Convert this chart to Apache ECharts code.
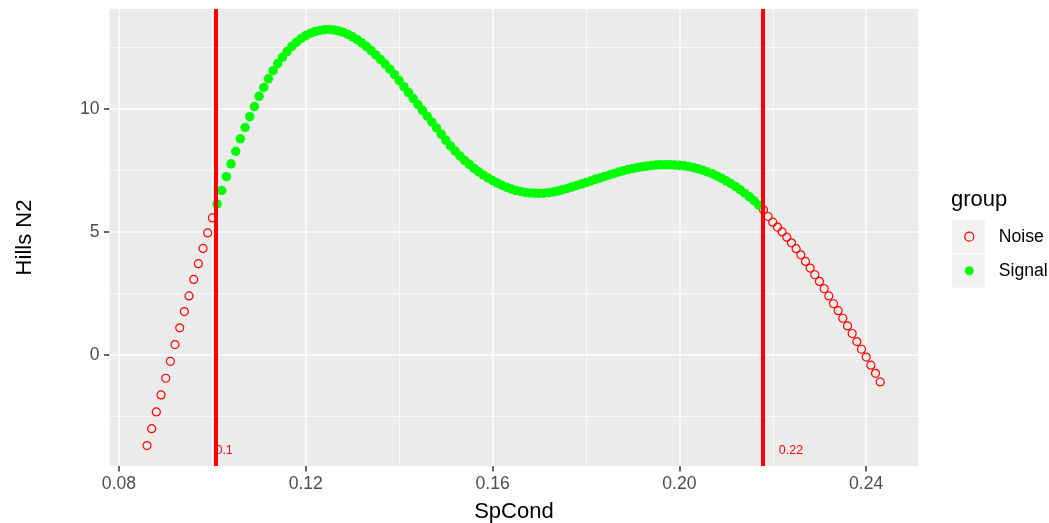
<!DOCTYPE html>
<html><head><meta charset="utf-8">
<script src="https://cdn.jsdelivr.net/npm/echarts@6/dist/echarts.min.js"></script>
<style>html,body{margin:0;padding:0;background:#fff}#c{width:1049px;height:523px}</style>
</head><body><div id="c"></div>
<script>
const spCond = [
0.086,0.087,0.088,0.089,0.090,0.091,0.092,0.093,0.094,0.095,0.096,0.097,0.098,0.099,0.100,
0.101,0.102,0.103,0.104,0.105,0.106,0.107,0.108,0.109,0.110,0.111,0.112,0.113,0.114,0.115,
0.116,0.117,0.118,0.119,0.120,0.121,0.122,0.123,0.124,0.125,0.126,0.127,0.128,0.129,0.130,
0.131,0.132,0.133,0.134,0.135,0.136,0.137,0.138,0.139,0.140,0.141,0.142,0.143,0.144,0.145,
0.146,0.147,0.148,0.149,0.150,0.151,0.152,0.153,0.154,0.155,0.156,0.157,0.158,0.159,0.160,
0.161,0.162,0.163,0.164,0.165,0.166,0.167,0.168,0.169,0.170,0.171,0.172,0.173,0.174,0.175,
0.176,0.177,0.178,0.179,0.180,0.181,0.182,0.183,0.184,0.185,0.186,0.187,0.188,0.189,0.190,
0.191,0.192,0.193,0.194,0.195,0.196,0.197,0.198,0.199,0.200,0.201,0.202,0.203,0.204,0.205,
0.206,0.207,0.208,0.209,0.210,0.211,0.212,0.213,0.214,0.215,0.216,0.217,0.218,0.219,0.220,
0.221,0.222,0.223,0.224,0.225,0.226,0.227,0.228,0.229,0.230,0.231,0.232,0.233,0.234,0.235,
0.236,0.237,0.238,0.239,0.240,0.241,0.242,0.243
];
const hillsN2 = [
-3.69,-3.00,-2.32,-1.63,-0.95,-0.26,0.42,1.10,1.76,2.40,3.07,3.71,4.33,4.96,5.57,
6.14,6.69,7.25,7.77,8.28,8.79,9.25,9.69,10.10,10.52,10.88,11.23,11.56,11.85,12.11,
12.34,12.55,12.72,12.87,12.99,13.08,13.15,13.20,13.23,13.24,13.22,13.18,13.12,13.04,12.94,
12.82,12.69,12.54,12.38,12.20,12.02,11.83,11.62,11.40,11.16,10.91,10.67,10.43,10.19,9.95,
9.71,9.47,9.23,8.98,8.73,8.50,8.29,8.09,7.91,7.75,7.59,7.45,7.32,7.20,7.09,
6.99,6.90,6.82,6.75,6.69,6.65,6.61,6.59,6.58,6.57,6.58,6.60,6.63,6.67,6.72,
6.77,6.83,6.89,6.95,7.01,7.07,7.14,7.20,7.26,7.32,7.38,7.44,7.49,7.54,7.58,
7.62,7.65,7.68,7.70,7.72,7.73,7.73,7.73,7.72,7.71,7.69,7.66,7.62,7.57,7.51,
7.44,7.37,7.28,7.19,7.08,6.97,6.85,6.72,6.58,6.43,6.27,6.09,5.90,5.63,5.40,
5.20,5.00,4.79,4.56,4.32,4.07,3.80,3.53,3.26,2.99,2.69,2.40,2.08,1.80,1.49,
1.18,0.87,0.54,0.23,-0.09,-0.42,-0.75,-1.10
];
const thresholds = [0.1008, 0.2179];
const thresholdLabels = ['0.1', '0.22'];
const groupNames = ['Noise', 'Signal'];
const xTicks = [0.08, 0.12, 0.16, 0.20, 0.24];
const xMinor = [0.10, 0.14, 0.18, 0.22];
const yTicks = [0, 5, 10];
const yMinor = [-2.5, 2.5, 7.5, 12.5];

const noiseData = [], signalData = [];
spCond.forEach((x, i) => {
  if (x >= thresholds[0] && x <= thresholds[1]) signalData.push([x, hillsN2[i]]);
  else noiseData.push([x, hillsN2[i]]);
});

const FONT = 'Liberation Sans, Arial, Helvetica, sans-serif';
const chart = echarts.init(document.getElementById('c'), null, {renderer: 'canvas'});

const gridLines = [].concat(
  xTicks.map(v => ({xAxis: v, lineStyle: {width: 1.5}})),
  xMinor.map(v => ({xAxis: v, lineStyle: {width: 0.75}})),
  yTicks.map(v => ({yAxis: v, lineStyle: {width: 1.5}})),
  yMinor.map(v => ({yAxis: v, lineStyle: {width: 0.75}}))
);

chart.setOption({
  animation: false,
  textStyle: {fontFamily: FONT},
  grid: {left: 109.5, right: 130.7, top: 9, bottom: 57, show: true, backgroundColor: '#EBEBEB', borderWidth: 0,
    containLabel: false, outerBoundsMode: 'none'},
  xAxis: {
    type: 'value', min: 0.07797, max: 0.25116,
    name: 'SpCond', nameLocation: 'middle', nameGap: 35,
    nameTextStyle: {fontSize: 22, color: '#000', fontFamily: FONT},
    axisLine: {show: false, onZero: false},
    axisTick: {show: true, length: 5.5, lineStyle: {color: '#333333', width: 1.5}, customValues: xTicks},
    axisLabel: {customValues: xTicks, fontSize: 17.6, color: '#4D4D4D', margin: 9, fontFamily: FONT,
      formatter: v => Number(v).toFixed(2)},
    splitLine: {show: false}
  },
  yAxis: {
    type: 'value', min: -4.52, max: 14.07,
    name: 'Hills N2', nameLocation: 'middle', nameGap: 74,
    nameTextStyle: {fontSize: 22, color: '#000', fontFamily: FONT},
    axisLine: {show: false, onZero: false},
    axisTick: {show: true, length: 5.5, lineStyle: {color: '#333333', width: 1.5}, customValues: yTicks},
    axisLabel: {customValues: yTicks, fontSize: 17.6, color: '#4D4D4D', margin: 10, fontFamily: FONT,
      padding: [3, 0, 0, 0],
      formatter: v => String(Math.round(v))},
    splitLine: {show: false}
  },
  legend: {
    orient: 'vertical', left: 964.2, top: 219.7, padding: 0, itemGap: 0,
    itemWidth: 9, itemHeight: 9,
    textStyle: {fontSize: 17.6, color: '#000', lineHeight: 34, padding: [0, 0, 0, 20], fontFamily: FONT},
    data: [
      {name: groupNames[0], icon: 'circle', itemStyle: {color: 'rgba(0,0,0,0)', borderColor: '#FF0000', borderWidth: 1.2, opacity: 1}},
      {name: groupNames[1], icon: 'circle', itemStyle: {color: '#00FF00', borderWidth: 0, opacity: 1}}
    ]
  },
  graphic: [
    {type: 'rect', shape: {x: 952, y: 220, width: 33, height: 33}, style: {fill: '#F2F2F2'}, z: 0},
    {type: 'rect', shape: {x: 952, y: 254.5, width: 33, height: 33}, style: {fill: '#F2F2F2'}, z: 0},
    {type: 'text', x: 951, y: 200, style: {text: 'group', font: '22px ' + FONT, fill: '#000', verticalAlign: 'middle', align: 'left'}, z: 1}
  ],
  series: [
    {
      name: 'grid', type: 'scatter', data: [], silent: true, z: 1,
      markLine: {silent: true, symbol: 'none', z: 1, animation: false, precision: 6,
        label: {show: false}, lineStyle: {color: '#FFFFFF', type: 'solid', opacity: 1},
        emphasis: {disabled: true},
        data: gridLines}
    },
    {
      name: groupNames[0], type: 'scatter', data: noiseData, symbol: 'circle', symbolSize: 8, z: 2,
      itemStyle: {color: 'rgba(0,0,0,0)', borderColor: '#FF0000', borderWidth: 1.2, opacity: 1}
    },
    {
      name: groupNames[1], type: 'scatter', data: signalData, symbol: 'circle', symbolSize: 9.5, z: 2,
      itemStyle: {color: '#00FF00', borderWidth: 0, opacity: 1}
    },
    {
      name: 'thresholds', type: 'scatter', silent: true, z: 6,
      symbolSize: 0,
      itemStyle: {opacity: 1},
      data: thresholds.map((t, i) => ({
        value: [t, -3.9],
        label: {show: true, position: 'inside', formatter: thresholdLabels[i], color: '#FF0000', fontSize: 12.5, fontFamily: FONT,
          offset: [i === 0 ? 8 : 28, 0]}
      })),
      markLine: {silent: true, symbol: 'none', z: 5, animation: false, precision: 6,
        label: {show: false}, lineStyle: {color: '#FF0000', width: 4, type: 'solid', opacity: 1},
        emphasis: {disabled: true},
        data: thresholds.map(t => ({xAxis: t}))}
    }
  ]
});
</script></body></html>
